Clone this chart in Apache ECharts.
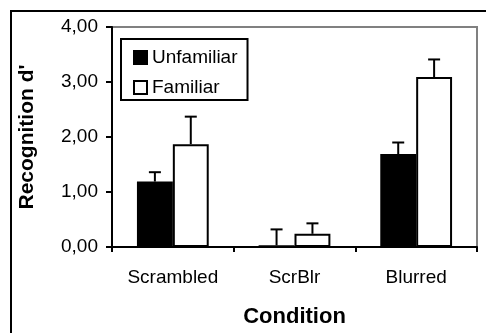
<!DOCTYPE html>
<html>
<head>
<meta charset="utf-8">
<script src="https://cdn.jsdelivr.net/npm/echarts@6/dist/echarts.min.js"></script>
<style>html,body{margin:0;padding:0;background:#fff;}#c{width:486px;height:333px;}</style>
</head>
<body>
<div id="c"></div>
<script>
const categories = ['Scrambled', 'ScrBlr', 'Blurred'];
const unfamiliar = [1.19, 0.03, 1.69];
const unfamiliarErr = [0.17, 0.29, 0.21];
const familiar = [1.87, 0.24, 3.09];
const familiarErr = [0.50, 0.19, 0.32];
const yTicks = { min: 0, max: 4, interval: 1 };

const FONT = 'Liberation Sans, Arial, sans-serif';
const CAT_GAP = 0.41;

function errRender(side) {
  return function (params, api) {
    const i = api.value(0), v = api.value(1), e = api.value(2);
    const base = api.coord([i, v]);
    const top = api.coord([i, v + e]);
    const band = api.size([1, 0])[0];
    const bw = band * (1 - CAT_GAP) / 2;
    const x = base[0] + side * bw / 2;
    return {
      type: 'group',
      children: [
        { type: 'line', shape: { x1: x, y1: base[1], x2: x, y2: top[1] }, style: { stroke: '#000', lineWidth: 2 } },
        { type: 'line', shape: { x1: x - 6, y1: top[1], x2: x + 6, y2: top[1] }, style: { stroke: '#000', lineWidth: 2 } }
      ]
    };
  };
}

const chart = echarts.init(document.getElementById('c'), null, { renderer: 'canvas' });
chart.setOption({
  animation: false,
  backgroundColor: '#fff',
  textStyle: { fontFamily: FONT },
  graphic: [{
    type: 'rect', shape: { x: 11, y: 11, width: 600, height: 600 },
    style: { fill: 'none', stroke: '#000', lineWidth: 2 }, z: -1
  }],
  grid: {
    left: 112, top: 27, right: 9, bottom: 84,
    show: true, borderColor: '#808080', borderWidth: 2, backgroundColor: '#fff'
  },
  legend: {
    data: ['Unfamiliar', 'Familiar'],
    orient: 'vertical',
    left: 121, top: 39,
    padding: [9, 10, 3, 12],
    itemGap: 11,
    itemWidth: 13, itemHeight: 13,
    icon: 'rect',
    borderColor: '#000', borderWidth: 2,
    backgroundColor: '#fff',
    textStyle: { fontFamily: FONT, fontSize: 19, lineHeight: 19, color: '#000', padding: [0, 0, 0, 0] }
  },
  xAxis: {
    type: 'category',
    data: categories,
    name: 'Condition',
    nameLocation: 'middle',
    nameGap: 59,
    nameTextStyle: { fontFamily: FONT, fontSize: 22, fontWeight: 'bold', color: '#000' },
    axisLine: { lineStyle: { color: '#000', width: 2 } },
    axisTick: { show: true, length: 5, lineStyle: { color: '#000', width: 2 } },
    axisLabel: { fontFamily: FONT, fontSize: 19, color: '#000', margin: 21 }
  },
  yAxis: {
    type: 'value',
    min: yTicks.min, max: yTicks.max, interval: yTicks.interval,
    name: "Recognition d'",
    nameLocation: 'middle',
    nameGap: 74,
    nameTextStyle: { fontFamily: FONT, fontSize: 21, fontWeight: 'bold', color: '#000' },
    axisLine: { show: true, lineStyle: { color: '#000', width: 2 } },
    axisTick: { show: true, length: 6, lineStyle: { color: '#000', width: 2 } },
    splitLine: { show: false },
    axisLabel: {
      fontFamily: FONT, fontSize: 19, color: '#000', margin: 14,
      formatter: v => v.toFixed(2).replace('.', ',')
    }
  },
  series: [
    {
      name: 'Unfamiliar', type: 'bar', data: unfamiliar,
      barGap: 0, barCategoryGap: (CAT_GAP * 100) + '%',
      itemStyle: { color: '#000', borderColor: '#000', borderWidth: 1.5 }
    },
    {
      name: 'Familiar', type: 'bar', data: familiar,
      barGap: 0, barCategoryGap: (CAT_GAP * 100) + '%',
      itemStyle: { color: '#fff', borderColor: '#000', borderWidth: 2 }
    },
    {
      name: 'UnfamiliarErr', type: 'custom', z: 5,
      renderItem: errRender(-1),
      data: categories.map((c, i) => [i, unfamiliar[i], unfamiliarErr[i]])
    },
    {
      name: 'FamiliarErr', type: 'custom', z: 5,
      renderItem: errRender(1),
      data: categories.map((c, i) => [i, familiar[i], familiarErr[i]])
    }
  ]
});
</script>
</body>
</html>
